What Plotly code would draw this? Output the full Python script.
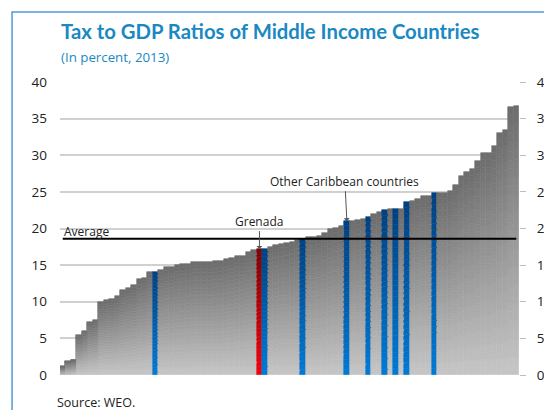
import plotly.graph_objects as go

# Tax revenue as a share of GDP, 2013, sorted ascending (one bar per country)
tax_ratio = [
    1.2, 1.9, 2.1, 5.4, 6.0, 7.2, 7.5, 9.9, 10.3, 10.4,
    10.8, 11.6, 11.9, 12.3, 13.1, 13.3, 14.1, 14.1, 14.4, 14.7,
    14.8, 15.0, 15.1, 15.2, 15.4, 15.4, 15.4, 15.4, 15.5, 15.6,
    15.8, 16.0, 16.2, 16.3, 16.8, 17.0, 17.2, 17.2, 17.5, 17.7,
    17.9, 18.0, 18.2, 18.4, 18.6, 18.8, 18.8, 19.0, 19.4, 19.9,
    20.1, 20.3, 21.0, 21.0, 21.2, 21.3, 21.6, 22.0, 22.2, 22.5,
    22.7, 22.7, 22.7, 23.6, 23.7, 24.0, 24.4, 24.5, 24.8, 24.9,
    24.9, 25.1, 26.0, 27.2, 27.7, 28.1, 29.2, 30.3, 30.3, 31.3,
    33.1, 33.4, 36.6, 36.7,
]
# positions (in sorted order) of the highlighted countries
grenada_pos = [36]
caribbean_pos = [17, 37, 44, 52, 56, 59, 61, 63, 68]
average_ratio = 18.6

y_ticks = [0, 5, 10, 15, 20, 25, 30, 35, 40]

# vertical gradient end colours per group: (bottom, top)
GRADIENT = {
    "other": ((198, 198, 198), (108, 108, 108)),
    "caribbean": ((0, 122, 214), (0, 64, 128)),
    "grenada": ((245, 0, 10), (128, 0, 0)),
}

groups = []
for i in range(len(tax_ratio)):
    if i in grenada_pos:
        groups.append("grenada")
    elif i in caribbean_pos:
        groups.append("caribbean")
    else:
        groups.append("other")

xs = list(range(len(tax_ratio)))


def mix(c0, c1, t):
    return "rgb(%d,%d,%d)" % tuple(round(a + (b - a) * t) for a, b in zip(c0, c1))


fig = go.Figure()

# each bar is built from thin stacked slices to render a top-to-bottom gradient
N_SLICES = 30
for k in range(N_SLICES):
    t = (k + 0.5) / N_SLICES
    cols = [mix(GRADIENT[g][0], GRADIENT[g][1], t) for g in groups]
    fig.add_trace(go.Bar(
        x=xs,
        y=[v / N_SLICES for v in tax_ratio],
        base=[v * k / N_SLICES for v in tax_ratio],
        width=1.0,
        marker=dict(color=cols, line=dict(width=0.6, color=cols)),
        hoverinfo="skip",
        showlegend=False,
    ))

# average line
fig.add_trace(go.Scatter(
    x=[xs[0], xs[-1]], y=[average_ratio, average_ratio],
    mode="lines", line=dict(color="black", width=2.2),
    hoverinfo="skip", showlegend=False,
))

# secondary axis carrying the right-hand tick labels
fig.add_trace(go.Scatter(x=[None], y=[None], yaxis="y2", showlegend=False, hoverinfo="skip"))

TXT = "Open Sans"
BLUE = "#1a89c2"

fig.update_layout(
    width=544, height=410, autosize=False,
    margin=dict(l=60, r=24.5, t=82, b=34.5, pad=0),
    paper_bgcolor="white", plot_bgcolor="white",
    barmode="overlay", bargap=0,
    font=dict(family=TXT, size=13, color="#222222"),
    xaxis=dict(range=[-0.5, len(tax_ratio) - 0.5], visible=False, fixedrange=True,
               automargin=False),
    yaxis=dict(
        range=[0, 40], tickvals=y_ticks, showgrid=True, gridcolor="#d0d0d0", gridwidth=1.5,
        zeroline=False, showline=False, ticks="", ticklabelstandoff=12, automargin=False,
        tickfont=dict(family=TXT, size=13.5, color="#222222"),
    ),
    yaxis2=dict(
        range=[0, 40], tickvals=y_ticks, overlaying="y", side="right", showgrid=False,
        zeroline=False, showline=False, ticks="outside", ticklen=6, tickcolor="#bdbdbd",
        tickwidth=1, ticklabelstandoff=8, automargin=False,
        tickfont=dict(family=TXT, size=13.5, color="#222222"),
    ),
    title=dict(
        text="<b>Tax to GDP Ratios of Middle Income Countries</b>",
        x=61 / 544, xanchor="left", xref="container",
        y=1 - 25 / 410, yanchor="top", yref="container", automargin=False,
        font=dict(family="Lato", size=20.3, color=BLUE),
    ),
    shapes=[dict(
        type="rect", xref="paper", yref="paper",
        x0=-48 / 459.5, x1=1.3, y0=-0.5, y1=363.5 / 293.5,
        line=dict(color="#4f9bd1", width=1.5), fillcolor="rgba(0,0,0,0)", layer="above",
    )],
    annotations=[
        dict(text="(In percent, 2013)", xref="paper", yref="paper",
             x=-1 / 459.5, y=(375.5 - 57) / 293.5, xanchor="left", yanchor="middle",
             showarrow=False, font=dict(family=TXT, size=13.3, color=BLUE)),
        dict(text="Average", x=-0.5, y=average_ratio, xanchor="left", yanchor="bottom",
             xshift=2, yshift=-3, showarrow=False, font=dict(family=TXT, size=12, color="#222222")),
        dict(text="Grenada", x=grenada_pos[0], y=tax_ratio[grenada_pos[0]],
             ax=0, ay=-28, showarrow=True, arrowhead=1, arrowsize=1, arrowwidth=1,
             arrowcolor="#555555", font=dict(family=TXT, size=12, color="#222222")),
        dict(text="Other Caribbean countries", x=caribbean_pos[3], y=tax_ratio[caribbean_pos[3]],
             ax=-2, ay=-40, showarrow=True, arrowhead=1, arrowsize=1, arrowwidth=1,
             arrowcolor="#555555", font=dict(family=TXT, size=12, color="#222222")),
        dict(text="Source: WEO.", xref="paper", yref="paper",
             x=-5 / 459.5, y=-(403 - 375.5) / 293.5, xanchor="left", yanchor="middle",
             showarrow=False, font=dict(family=TXT, size=12.5, color="#222222")),
    ],
)

fig.write_html("out.html")
